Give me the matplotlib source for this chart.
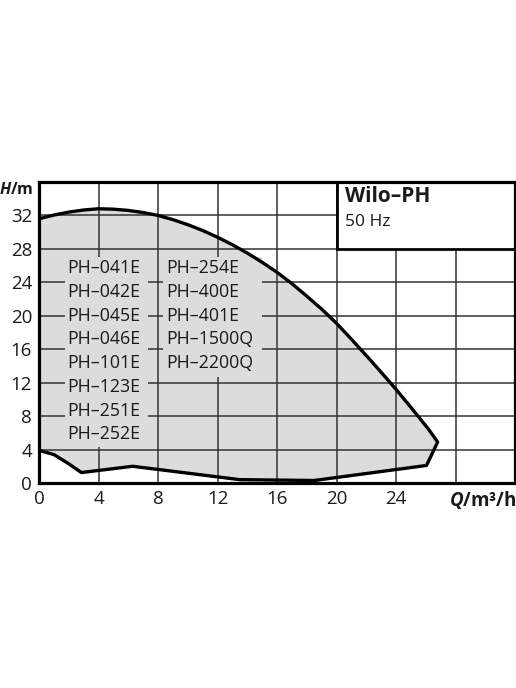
import matplotlib
matplotlib.use("Agg")
import matplotlib.pyplot as plt
from matplotlib.patches import Rectangle
import numpy as np

plt.rcParams['font.family'] = ['Open Sans', 'DejaVu Sans']
plt.rcParams['mathtext.fontset'] = 'custom'
plt.rcParams['mathtext.it'] = 'Open Sans:bold:italic'
plt.rcParams['mathtext.rm'] = 'Open Sans:bold'

# envelope of the pump range
upper_q = [0, 1, 2, 3, 4, 5, 6, 7, 8, 9, 10, 11, 12, 13, 14, 15, 16, 17,
           18, 19, 20, 21, 22, 23, 24, 25, 25.5, 26.2, 26.8]
upper_h = [31.6, 32.05, 32.4, 32.65, 32.8, 32.75, 32.6, 32.35, 32.0, 31.5,
           30.9, 30.2, 29.4, 28.5, 27.5, 26.4, 25.2, 23.85, 22.35, 20.8, 19.1,
           17.2, 15.25, 13.25, 11.2, 9.05, 7.95, 6.4, 4.9]
lower_q = [26.8, 26.05, 18.5, 13.5, 6.3, 2.85, 2.0, 1.0, 0]
lower_h = [4.9, 2.1, 0.3, 0.4, 2.0, 1.25, 2.3, 3.4, 3.9]

left_models = ['PH–041E', 'PH–042E', 'PH–045E', 'PH–046E',
               'PH–101E', 'PH–123E', 'PH–251E', 'PH–252E']
right_models = ['PH–254E', 'PH–400E', 'PH–401E', 'PH–1500Q', 'PH–2200Q']

x_ticks = [0, 4, 8, 12, 16, 20, 24]
y_ticks = [0, 4, 8, 12, 16, 20, 24, 28, 32]

fill_col = '#dcdcdc'
grid_col = '#333333'
text_col = '#1a1a1a'

fig = plt.figure(figsize=(5.16, 6.88), dpi=100)
ax = fig.add_axes([39/516, 1 - 483/688, 476/516, 301/688])
ax.set_xlim(0, 32)
ax.set_ylim(0, 36)

ax.set_xticks(np.arange(0, 33, 4))
ax.set_yticks(np.arange(0, 37, 4))
ax.set_xticklabels([str(v) if v in x_ticks else '' for v in range(0, 33, 4)])
ax.set_yticklabels([str(v) if v in y_ticks else '' for v in range(0, 37, 4)])
ax.tick_params(length=0, labelsize=13.5, pad=5, labelcolor=text_col)
ax.grid(True, color=grid_col, linewidth=1.1)
ax.set_axisbelow(True)
for s in ax.spines.values():
    s.set_linewidth(2.3)
    s.set_color('black')

# gray operating area
poly_q = upper_q + lower_q
poly_h = upper_h + lower_h
ax.fill(poly_q, poly_h, color=fill_col, zorder=0.2, linewidth=0)
ax.plot(upper_q + lower_q[1:], upper_h + lower_h[1:], color='black',
        linewidth=2.4, zorder=2, solid_joinstyle='round')

# model lists, gridlines hidden behind them
ax.add_patch(Rectangle((1.75, 4.3), 5.58, 22.7, facecolor=fill_col,
                       edgecolor='none', zorder=0.8))
ax.add_patch(Rectangle((8.35, 12.7), 6.65, 14.3, facecolor=fill_col,
                       edgecolor='none', zorder=0.8))
row_top, row_step = 25.7, 2.84
for i, name in enumerate(left_models):
    ax.text(1.93, row_top - i * row_step, name, fontsize=12.8,
            va='center', ha='left', color=text_col, zorder=3)
for i, name in enumerate(right_models):
    ax.text(8.57, row_top - i * row_step, name, fontsize=12.8,
            va='center', ha='left', color=text_col, zorder=3)

# title box in the corner
ax.add_patch(Rectangle((20, 28), 12, 8, facecolor='white', edgecolor='black',
                       linewidth=2.0, zorder=1.5, clip_on=False))
ax.text(20.55, 34.3, 'Wilo–PH', fontsize=15, fontweight='bold',
        va='center', ha='left', color=text_col, zorder=3)
ax.text(20.55, 31.2, '50 Hz', fontsize=12.5, va='center', ha='left',
        color=text_col, zorder=3)

# axis units
ax.annotate(r'$H$/m', xy=(0, 35), xycoords=('axes fraction', 'data'),
            xytext=(-4, 0), textcoords='offset points', ha='right',
            va='center', fontsize=11.5, fontweight='bold', color=text_col)
ax.annotate(r'$Q$/m³/h', xy=(1, 0), xycoords='axes fraction',
            xytext=(1, -12), textcoords='offset points', ha='right',
            va='center', fontsize=13.5, fontweight='bold', color=text_col)

fig.savefig('out.png', dpi=100)
